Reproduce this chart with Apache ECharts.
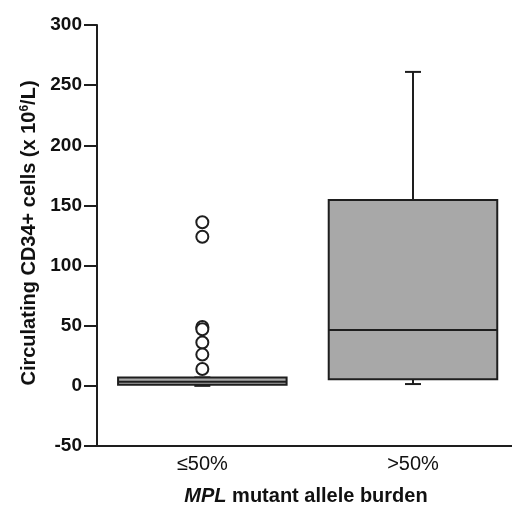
<!DOCTYPE html>
<html><head><meta charset="utf-8">
<script src="https://cdn.jsdelivr.net/npm/echarts@6/dist/echarts.min.js"></script>
<style>html,body{margin:0;padding:0;background:#fff}#c{width:512px;height:508px}</style>
</head><body><div id="c"></div>
<script>
const categories = ['≤50%', '>50%'];
const lowerWhisker = [0, 1.5];
const q1 = [1, 5.5];
const median = [3.5, 46.5];
const q3 = [7, 154.5];
const upperWhisker = [7, 261];
const outlierCategory = [0, 0, 0, 0, 0, 0, 0];
const outlierValues = [136, 124, 49, 47, 36, 26, 14];
const yTicks = [-50, 0, 50, 100, 150, 200, 250, 300];

const catIndex = categories.map((c, i) => i);
const boxData = categories.map((c, i) => [i, lowerWhisker[i], q1[i], median[i], q3[i], upperWhisker[i]]);
const outlierData = outlierValues.map((v, i) => [outlierCategory[i], v]);

const chart = echarts.init(document.getElementById('c'), null, {renderer: 'canvas'});
const stroke = '#1e1e1e';
const FF = 'Liberation Sans, Arial, sans-serif';
chart.setOption({
  animation: false,
  grid: {left: 97, right: 0, top: 25, bottom: 62},
  xAxis: {
    type: 'value', min: -0.5, max: 1.47,
    axisLine: {onZero: false, lineStyle: {color: stroke, width: 2}},
    axisTick: {show: false},
    splitLine: {show: false},
    axisLabel: {color: '#111', fontSize: 20, fontFamily: FF, margin: 8,
      customValues: catIndex,
      formatter: function (v) { return categories[Math.round(v)] || ''; }}
  },
  yAxis: {
    type: 'value', min: yTicks[0], max: yTicks[yTicks.length - 1], interval: 50,
    axisLine: {show: true, onZero: false, lineStyle: {color: stroke, width: 2}},
    axisTick: {show: true, length: 13, lineStyle: {color: stroke, width: 2}},
    splitLine: {show: false},
    axisLabel: {color: '#111', fontSize: 19, fontWeight: 'bold', fontFamily: FF, margin: 15}
  },
  graphic: [{
    type: 'text', x: 29, y: 233, rotation: Math.PI / 2,
    style: {
      text: 'Circulating CD34+ cells (x 10{s|6}/L)',
      fill: '#111', font: 'bold 20px ' + FF,
      align: 'center', verticalAlign: 'middle',
      rich: {s: {fontSize: 12, fontWeight: 'bold', fontFamily: FF, verticalAlign: 'top', padding: [0, 0, 9, 0], fill: '#111'}}
    }
  }, {
    type: 'text', x: 306, y: 496,
    style: {
      text: '{i|MPL} mutant allele burden',
      fill: '#111', font: 'bold 20px ' + FF,
      align: 'center', verticalAlign: 'middle',
      rich: {i: {fontStyle: 'italic', fontWeight: 'bold', fontSize: 20, fontFamily: FF, fill: '#111'}}
    }
  }],
  series: [{
    type: 'custom',
    data: boxData,
    encode: {x: 0, y: [1, 2, 3, 4, 5]},
    renderItem: function (params, api) {
      const idx = api.value(0);
      const bw = api.size([1, 0])[0] * 0.8;
      const capW = 16;
      const pLo = api.coord([idx, api.value(1)]);
      const pQ1 = api.coord([idx, api.value(2)]);
      const pMed = api.coord([idx, api.value(3)]);
      const pQ3 = api.coord([idx, api.value(4)]);
      const pHi = api.coord([idx, api.value(5)]);
      const x = pQ1[0];
      const ls = {stroke: stroke, lineWidth: 2};
      const children = [];
      children.push({type: 'line', shape: {x1: x, y1: pQ3[1], x2: x, y2: pHi[1]}, style: ls});
      children.push({type: 'line', shape: {x1: x, y1: pLo[1], x2: x, y2: pQ1[1]}, style: ls});
      children.push({type: 'line', shape: {x1: x - capW / 2, y1: pHi[1], x2: x + capW / 2, y2: pHi[1]}, style: ls});
      children.push({type: 'line', shape: {x1: x - capW / 2, y1: pLo[1], x2: x + capW / 2, y2: pLo[1]}, style: ls});
      children.push({type: 'rect', shape: {x: x - bw / 2, y: pQ3[1], width: bw, height: pQ1[1] - pQ3[1]},
        style: {fill: '#a8a8a8', stroke: stroke, lineWidth: 2}});
      children.push({type: 'line', shape: {x1: x - bw / 2, y1: pMed[1], x2: x + bw / 2, y2: pMed[1]}, style: ls});
      return {type: 'group', children: children};
    }
  }, {
    type: 'scatter',
    data: outlierData,
    symbol: 'circle', symbolSize: 12,
    itemStyle: {color: '#fff', borderColor: stroke, borderWidth: 2, opacity: 1}
  }]
});
</script></body></html>
